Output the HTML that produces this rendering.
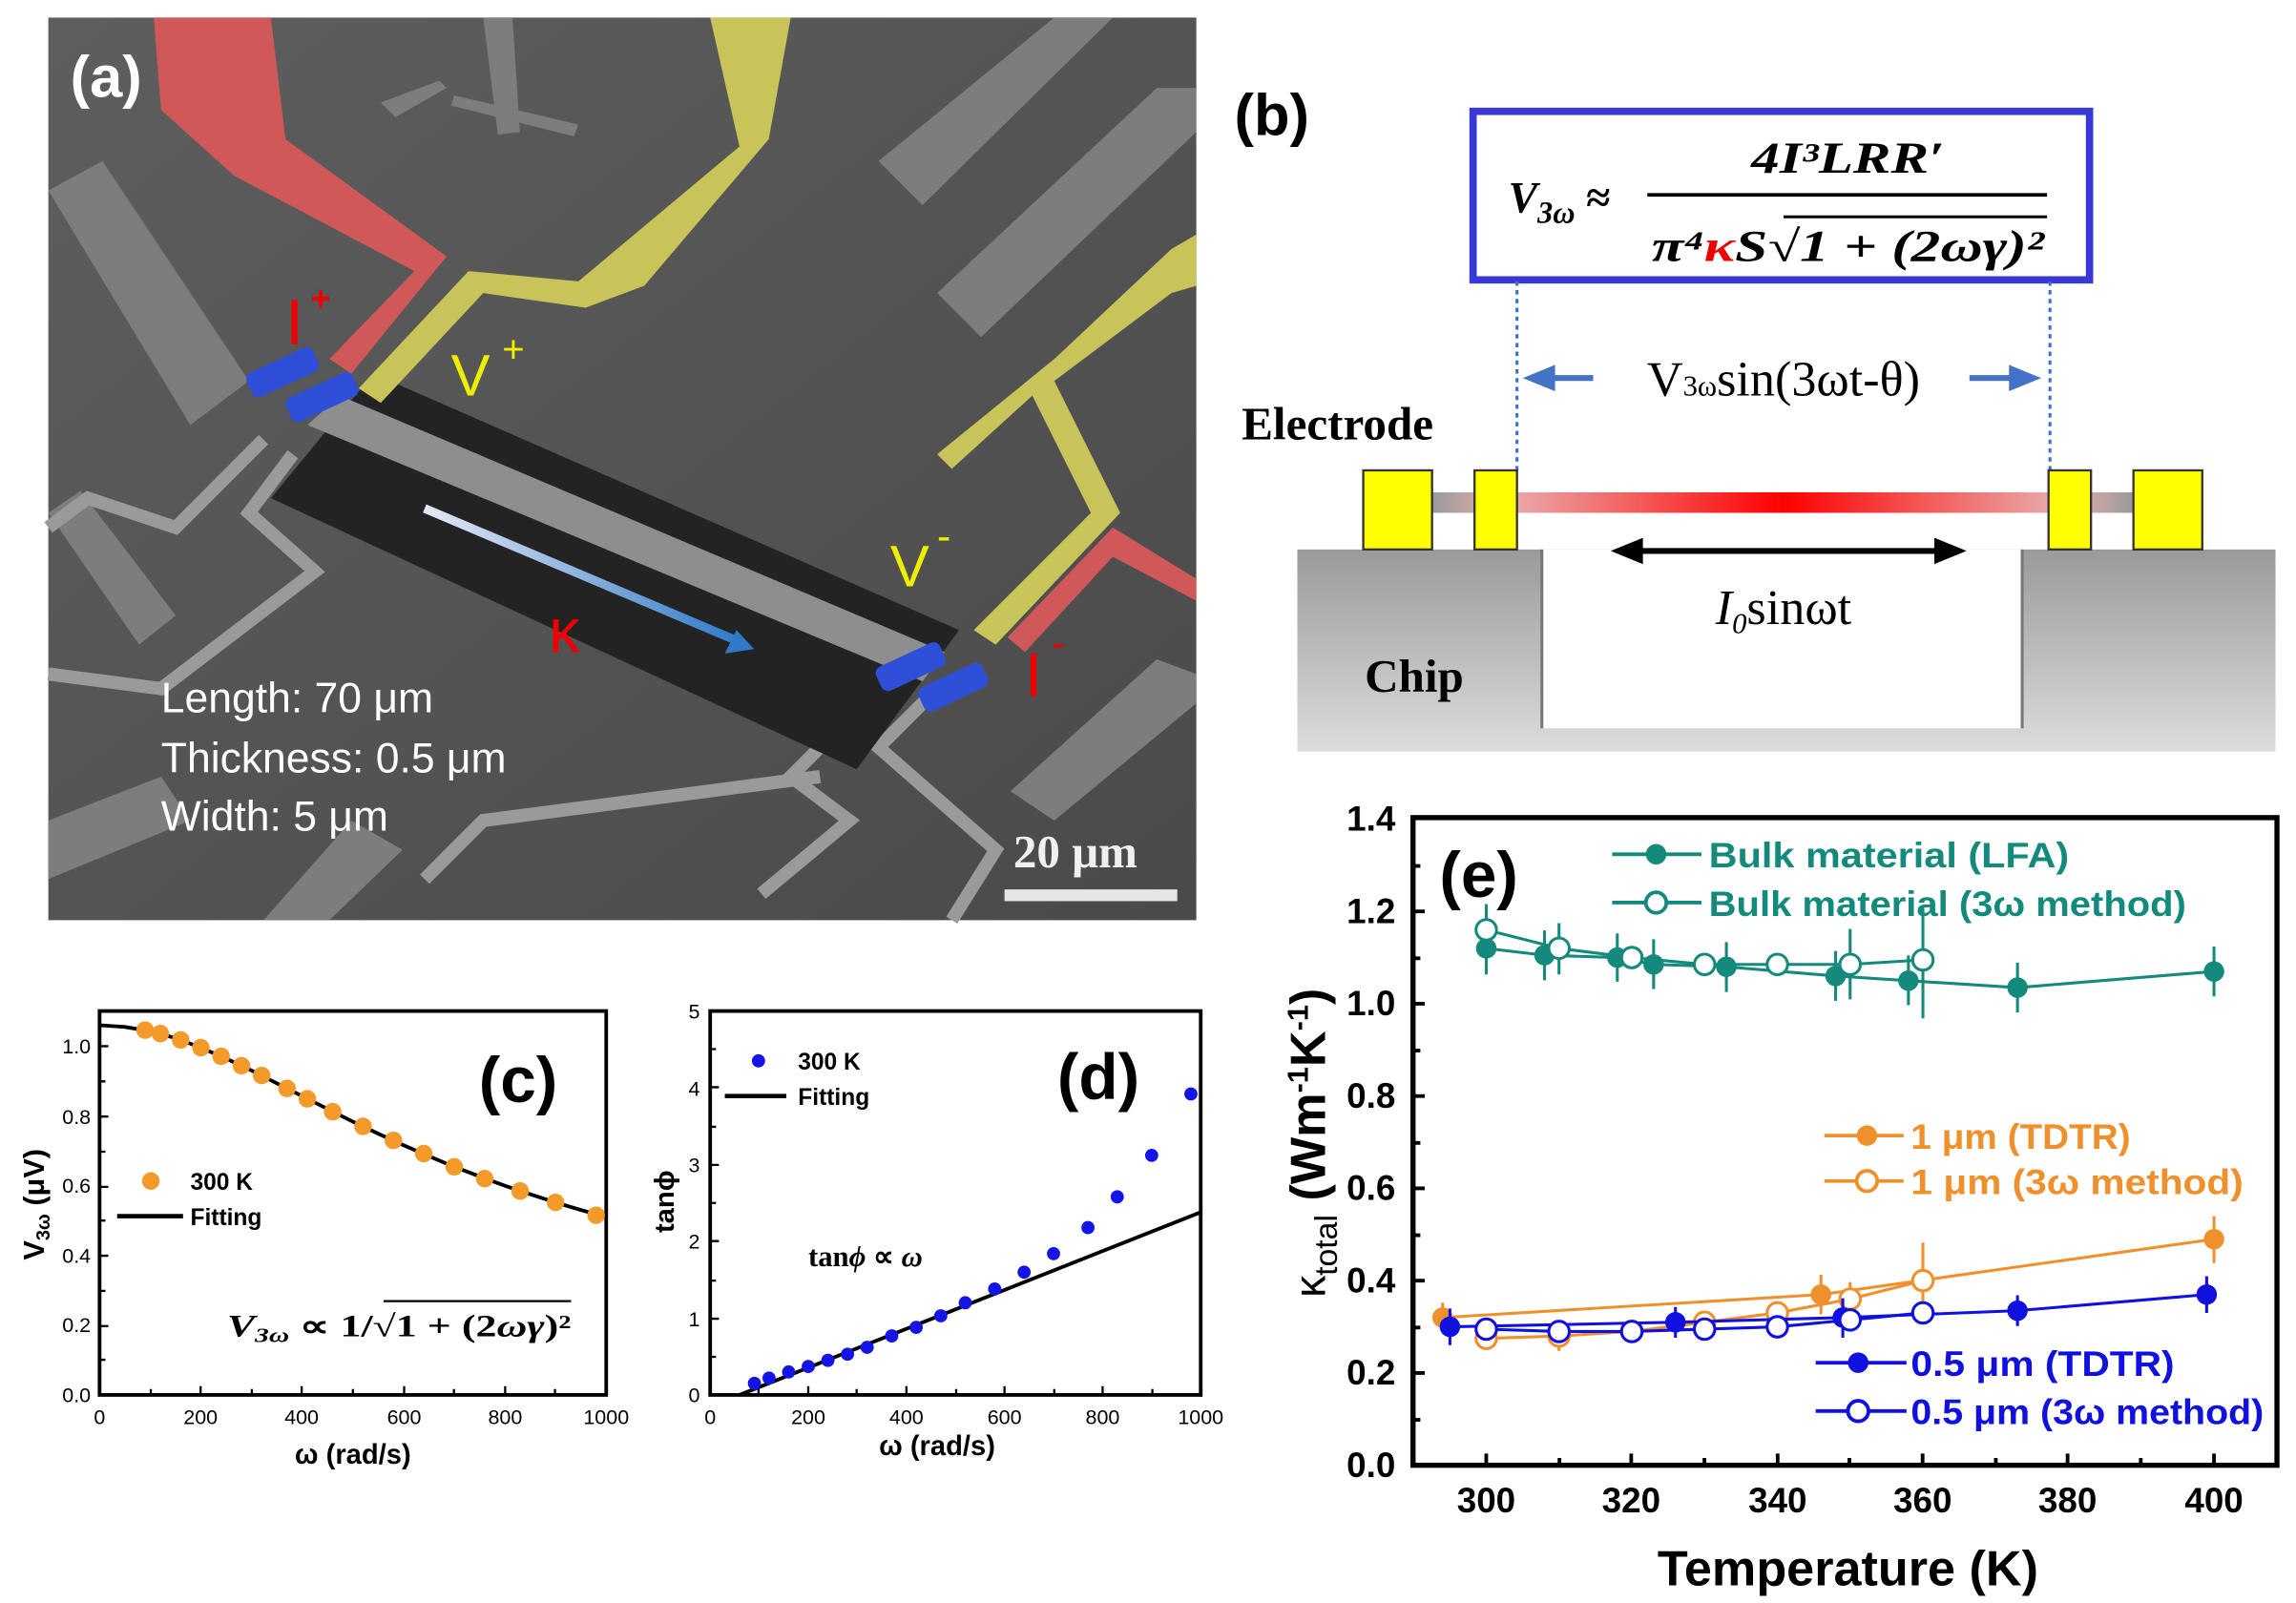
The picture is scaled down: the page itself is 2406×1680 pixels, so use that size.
<!DOCTYPE html>
<html><head><meta charset="utf-8"><style>
html,body{margin:0;padding:0;background:#fff;}
svg{display:block;}
text{font-family:"Liberation Sans",sans-serif;}
.n{font-family:"Liberation Sans Narrow","Liberation Sans",sans-serif;}
.s{font-family:"Liberation Serif",serif;}
</style></head><body>
<svg width="2406" height="1680" viewBox="0 0 1568 1094" preserveAspectRatio="none" xmlns="http://www.w3.org/2000/svg">
<defs>
<linearGradient id="kap" x1="0" y1="0" x2="1" y2="0"><stop offset="0" stop-color="#e8e8f4"/><stop offset="1" stop-color="#2f7ac8"/></linearGradient>
<linearGradient id="bar" x1="0" y1="0" x2="1" y2="0"><stop offset="0" stop-color="#999"/><stop offset="0.1" stop-color="#e8b0b0"/><stop offset="0.5" stop-color="#f00"/><stop offset="0.9" stop-color="#e8b0b0"/><stop offset="1" stop-color="#999"/></linearGradient>
<linearGradient id="chip" x1="0" y1="0" x2="0" y2="1"><stop offset="0" stop-color="#9a9a9a"/><stop offset="1" stop-color="#dcdcdc"/></linearGradient>
<linearGradient id="bg" x1="0" y1="0" x2="1" y2="1"><stop offset="0" stop-color="#5e5e5e"/><stop offset="1" stop-color="#4a4a4a"/></linearGradient>
</defs>
<!-- Panel a -->
<rect x="33" y="12" width="784" height="616" fill="url(#bg)"/>
<g fill="#7d7d7d">
<polygon points="33,130 70,110 170,260 130,290"/>
<polygon points="33,350 55,335 120,420 95,440"/>
<polygon points="600,110 720,12 760,12 630,140"/>
<polygon points="640,200 790,60 817,60 817,90 670,230"/>
<polygon points="260,70 300,55 305,60 270,80"/>
<polygon points="330,12 350,12 355,90 340,92"/>
<polygon points="310,65 395,85 392,93 308,72"/>
<polygon points="690,540 790,450 817,460 817,480 720,560"/>
<polygon points="33,560 110,530 130,560 33,600"/>
<polygon points="180,628 240,560 275,580 225,628"/>
</g>
<g fill="none" stroke="#9a9a9a" stroke-width="9">
<polyline points="180,300 120,360 60,340 33,360"/>
<polyline points="200,310 170,350 215,390 110,470 33,460"/>
<polyline points="590,480 540,530 580,560 520,610"/>
<polyline points="640,470 600,510 680,580 650,628"/>
<polyline points="560,530 330,560 290,600"/>
</g>
<polygon points="185,340 255,255 655,430 585,525" fill="#232323"/>
<polygon points="210,290 232,270 645,445 630,465" fill="#8e8e8e"/>
<polygon points="105,12 185,12 195,95 305,175 240,255 225,245 283,185 160,120 110,75" fill="#d05858"/>
<polygon points="485,12 540,12 525,95 440,195 400,210 330,200 260,275 245,265 320,185 395,192 505,100" fill="#c8c45a"/>
<polygon points="800,170 817,160 817,195 800,200 720,260 765,350 680,440 665,430 745,350 705,270 650,320 640,310 720,245" fill="#c8c45a"/>
<polygon points="760,360 817,395 817,410 760,380 700,445 688,435" fill="#d05858"/>
<g fill="#2f4fd8">
<rect x="168" y="245" width="50" height="18" rx="5" transform="rotate(-25 193 254)"/>
<rect x="195" y="262" width="50" height="18" rx="5" transform="rotate(-25 220 271)"/>
<rect x="598" y="446" width="48" height="18" rx="5" transform="rotate(-25 622 455)"/>
<rect x="627" y="460" width="48" height="18" rx="5" transform="rotate(-25 651 469)"/>
</g>
<line x1="290" y1="347" x2="505" y2="438" stroke="url(#kap)" stroke-width="6"/>
<polygon points="515,443 495,446 503,430" fill="#2f7ac8"/>
<text x="48" y="66" font-size="40" font-weight="bold" fill="#fff">(a)</text>
<text x="195" y="235" font-size="44" fill="#e00">I</text><text x="212" y="212" font-size="24" font-weight="bold" fill="#e00">+</text>
<text x="308" y="270" font-size="40" fill="#ee0">V</text><text x="343" y="247" font-size="26" fill="#ee0">+</text>
<text x="608" y="400" font-size="40" fill="#ee0">V</text><text x="640" y="375" font-size="28" fill="#ee0">-</text>
<text x="700" y="475" font-size="42" fill="#e00">I</text><text x="718" y="448" font-size="28" fill="#e00">-</text>
<text x="375" y="445" font-size="42" fill="#e00">κ</text>
<text x="110" y="486" font-size="29" fill="#fff">Length: 70 μm</text>
<text x="110" y="527" font-size="29" fill="#fff">Thickness: 0.5 μm</text>
<text x="110" y="567" font-size="29" fill="#fff">Width: 5 μm</text>
<text x="692" y="592" font-size="32" font-weight="bold" class="s" fill="#f0f0f0">20 μm</text>
<rect x="686" y="607" width="118" height="8" fill="#e6e6e6"/>
<!-- Panel b -->
<text x="843" y="92" font-size="40" font-weight="bold">(b)</text>
<rect x="1006" y="76" width="421" height="115" fill="#fff" stroke="#3838d8" stroke-width="5"/>
<text x="1030" y="145" font-size="30" font-weight="bold" font-style="italic" class="s">V<tspan font-size="21" dy="7">3ω</tspan><tspan dy="-7" font-style="normal"> ≈</tspan></text>
<text x="1196" y="118" font-size="30" font-weight="bold" font-style="italic" class="s" textLength="132" lengthAdjust="spacingAndGlyphs">4I³LRR′</text>
<line x1="1125" y1="133" x2="1398" y2="133" stroke="#000" stroke-width="2.5"/>
<text x="1128" y="178" font-size="30" font-weight="bold" font-style="italic" class="s" textLength="268" lengthAdjust="spacingAndGlyphs">π⁴<tspan fill="#e00">κ</tspan>S√1 + (2ωγ)²</text>
<line x1="1218" y1="148" x2="1398" y2="148" stroke="#000" stroke-width="2"/>
<g stroke="#3a6fd0" stroke-width="2" stroke-dasharray="3,3"><line x1="1036" y1="192" x2="1036" y2="322"/><line x1="1400" y1="192" x2="1400" y2="322"/></g>
<g stroke="#4472c4" stroke-width="4"><line x1="1055" y1="258" x2="1088" y2="258"/><line x1="1345" y1="258" x2="1378" y2="258"/></g>
<polygon points="1040,258 1062,249 1062,267" fill="#4472c4"/><polygon points="1394,258 1372,249 1372,267" fill="#4472c4"/>
<text x="1218" y="270" font-size="34" class="s" text-anchor="middle">V<tspan font-size="20">3ω</tspan>sin(3ωt-θ)</text>
<text x="848" y="300" font-size="32" font-weight="bold" class="s">Electrode</text>
<rect x="886" y="375" width="668" height="138" fill="url(#chip)"/>
<rect x="1053" y="375" width="328" height="122" fill="#fff"/>
<line x1="1053" y1="375" x2="1053" y2="497" stroke="#777" stroke-width="2"/><line x1="1381" y1="375" x2="1381" y2="497" stroke="#777" stroke-width="2"/>
<rect x="978" y="336" width="480" height="14" fill="url(#bar)"/>
<g fill="#ffff00" stroke="#333" stroke-width="1.5">
<rect x="931" y="321" width="47" height="54"/><rect x="1007" y="321" width="29" height="54"/>
<rect x="1399" y="321" width="29" height="54"/><rect x="1457" y="321" width="47" height="54"/></g>
<line x1="1115" y1="376" x2="1328" y2="376" stroke="#000" stroke-width="4"/>
<polygon points="1100,376 1122,367 1122,385"/><polygon points="1343,376 1321,367 1321,385"/>
<text x="1218" y="426" font-size="34" class="s" text-anchor="middle"><tspan font-style="italic">I<tspan font-size="20" dy="6">0</tspan></tspan><tspan dy="-6">sinωt</tspan></text>
<text x="932" y="472" font-size="32" font-weight="bold" class="s">Chip</text>
<!-- Panel c -->
<rect x="68" y="690" width="346" height="262" fill="none" stroke="#000" stroke-width="2.5"/>
<g font-size="14" class="n" text-anchor="end">
<text x="62" y="957">0.0</text><text x="62" y="909">0.2</text><text x="62" y="862">0.4</text><text x="62" y="814">0.6</text><text x="62" y="767">0.8</text><text x="62" y="719">1.0</text></g>
<g font-size="14" class="n" text-anchor="middle"><text x="68" y="972">0</text><text x="137" y="972">200</text><text x="206" y="972">400</text><text x="276" y="972">600</text><text x="345" y="972">800</text><text x="414" y="972">1000</text></g>
<g stroke="#000" stroke-width="1.5"><path d="M68,928h4M68,905h6M68,881h4M68,857h6M68,833h4M68,810h6M68,786h4M68,762h6M68,738h4M68,714h6M68,690h4M103,952v-4M137,952v-6M172,952v-4M206,952v-6M241,952v-4M276,952v-6M310,952v-4M345,952v-6M379,952v-4"/></g>
<polyline fill="none" stroke="#000" stroke-width="2.5" points="68,699.7 85,700.8 102.6,703.8 120,708.5 137.2,715 154.5,722.5 171.8,730.6 189,739.3 206.4,748.1 223.7,756.8 241,765.5 258.3,773.7 275.6,781.6 293,789.1 310.2,796.3 327.5,802.9 344.8,809.2 362,815 379.4,820.6 396.7,825.8 414,830.6"/>
<g fill="#f39a2b">
<circle cx="99.1" cy="703" r="6"/><circle cx="109.5" cy="705.4" r="6"/><circle cx="123.4" cy="709.7" r="6"/><circle cx="137.2" cy="715" r="6"/><circle cx="151" cy="720.9" r="6"/><circle cx="164.9" cy="727.3" r="6"/><circle cx="178.7" cy="734" r="6"/><circle cx="196" cy="742.8" r="6"/><circle cx="209.9" cy="749.9" r="6"/><circle cx="227.2" cy="758.7" r="6"/><circle cx="247.9" cy="768.7" r="6"/><circle cx="268.7" cy="778.3" r="6"/><circle cx="289.4" cy="787.3" r="6"/><circle cx="310.2" cy="796.3" r="6"/><circle cx="331" cy="804.4" r="6"/><circle cx="355.2" cy="812.8" r="6"/><circle cx="379.4" cy="820.6" r="6"/><circle cx="407.1" cy="829.4" r="6"/>
<circle cx="103" cy="806" r="6"/></g>
<text x="130" y="812" font-size="16" font-weight="bold" class="n">300 K</text>
<line x1="80" y1="830" x2="125" y2="830" stroke="#000" stroke-width="3"/>
<text x="130" y="836" font-size="16" font-weight="bold" class="n">Fitting</text>
<text x="327" y="752" font-size="44" font-weight="bold">(c)</text>
<text x="155" y="912" font-size="21" font-weight="bold" font-style="italic" class="s" textLength="235" lengthAdjust="spacingAndGlyphs">V<tspan font-size="14" dy="4">3ω</tspan><tspan dy="-4" font-style="normal"> ∝ 1/√1 + (2</tspan>ωγ<tspan font-style="normal">)²</tspan></text>
<line x1="262" y1="888" x2="390" y2="888" stroke="#000" stroke-width="1.5"/>
<text transform="translate(30,822) rotate(-90)" font-size="20" font-weight="bold" text-anchor="middle">V<tspan font-size="13" dy="4">3ω</tspan><tspan dy="-4"> (μV)</tspan></text>
<text x="241" y="999" font-size="19" font-weight="bold" text-anchor="middle" class="n">ω (rad/s)</text>
<!-- Panel d -->
<rect x="485" y="690" width="335" height="262" fill="none" stroke="#000" stroke-width="2.5"/>
<g font-size="14" class="n" text-anchor="end">
<text x="478" y="957">0</text><text x="478" y="905">1</text><text x="478" y="852">2</text><text x="478" y="800">3</text><text x="478" y="748">4</text><text x="478" y="695">5</text></g>
<g font-size="14" class="n" text-anchor="middle"><text x="485" y="972">0</text><text x="552" y="972">200</text><text x="619" y="972">400</text><text x="686" y="972">600</text><text x="753" y="972">800</text><text x="820" y="972">1000</text></g>
<g stroke="#000" stroke-width="1.5"><path d="M485,926h4M485,900h6M485,874h4M485,847h6M485,821h4M485,795h6M485,769h4M485,742h6M485,716h4M518,952v-4M552,952v-6M585,952v-4M619,952v-6M653,952v-4M686,952v-6M720,952v-4M753,952v-6M787,952v-4"/></g>
<line x1="505" y1="952" x2="820" y2="827.3" stroke="#000" stroke-width="2.5"/>
<g fill="#1414e6">
<circle cx="515.2" cy="944.1" r="4.5"/><circle cx="525.2" cy="940.5" r="4.5"/><circle cx="538.6" cy="936.3" r="4.5"/><circle cx="552" cy="932.6" r="4.5"/><circle cx="565.4" cy="928.4" r="4.5"/><circle cx="578.8" cy="924.2" r="4.5"/><circle cx="592.2" cy="919.5" r="4.5"/><circle cx="609" cy="911.7" r="4.5"/><circle cx="625.7" cy="905.9" r="4.5"/><circle cx="642.5" cy="898" r="4.5"/><circle cx="659.2" cy="889.1" r="4.5"/><circle cx="679.3" cy="879.7" r="4.5"/><circle cx="699.4" cy="868.2" r="4.5"/><circle cx="719.5" cy="855.6" r="4.5"/><circle cx="743" cy="837.8" r="4.5"/><circle cx="763" cy="816.8" r="4.5"/><circle cx="786.5" cy="788.5" r="4.5"/><circle cx="813.3" cy="746.6" r="4.5"/>
<circle cx="518" cy="724" r="4.5"/></g>
<text x="545" y="730" font-size="16" font-weight="bold" class="n">300 K</text>
<line x1="495" y1="748" x2="537" y2="748" stroke="#000" stroke-width="3"/>
<text x="545" y="754" font-size="16" font-weight="bold" class="n">Fitting</text>
<text x="722" y="750" font-size="44" font-weight="bold">(d)</text>
<text x="552" y="864" font-size="20" font-weight="bold" class="s">tan<tspan font-style="italic">ϕ</tspan> ∝ <tspan font-style="italic">ω</tspan></text>
<text transform="translate(460,820) rotate(-90)" font-size="19" font-weight="bold" text-anchor="middle">tanϕ</text>
<text x="640" y="993" font-size="19" font-weight="bold" text-anchor="middle" class="n">ω (rad/s)</text>
<!-- Panel e -->
<rect x="965" y="558" width="590" height="442" fill="none" stroke="#000" stroke-width="3.5"/>
<g font-size="24" font-weight="bold" class="n" text-anchor="end">
<text x="953" y="1008">0.0</text><text x="953" y="945">0.2</text><text x="953" y="882">0.4</text><text x="953" y="819">0.6</text><text x="953" y="756">0.8</text><text x="953" y="693">1.0</text><text x="953" y="630">1.2</text><text x="953" y="567">1.4</text></g>
<g font-size="24" font-weight="bold" class="n" text-anchor="middle"><text x="1015" y="1032">300</text><text x="1114" y="1032">320</text><text x="1214" y="1032">340</text><text x="1313" y="1032">360</text><text x="1412" y="1032">380</text><text x="1512" y="1032">400</text></g>
<g stroke="#000" stroke-width="2.5"><path d="M965,969h5M965,937h8M965,906h5M965,874h8M965,843h5M965,811h8M965,780h5M965,748h8M965,717h5M965,685h8M965,654h5M965,622h8M965,591h5M1015,1000v-8M1065,1000v-5M1114,1000v-8M1164,1000v-5M1214,1000v-8M1263,1000v-5M1313,1000v-8M1363,1000v-5M1412,1000v-8M1462,1000v-5M1512,1000v-8"/></g>
<text x="983" y="612" font-size="44" font-weight="bold">(e)</text>
<g stroke="#148a7c" stroke-width="2" fill="none">
<polyline points="1015,647.2 1054.8,651.9 1104.5,653.5 1129.3,658.2 1179,659.8 1253.6,666.1 1303.3,669.3 1377.8,674 1512,663"/>
<polyline points="1015,634.6 1064.7,647.2 1114.4,653.5 1164.1,658.2 1213.8,658.2 1263.5,658.2 1313.2,655.1"/>
<path d="M1015,630v35M1054.8,635v34M1104.5,637v33M1129.3,641v34M1179,643v34M1253.6,649v34M1303.3,652v34M1377.8,657v34M1512,646v34M1015,617v35M1064.7,630v35M1263.5,634v48M1313.2,620v75"/>
</g>
<g fill="#148a7c"><circle cx="1015" cy="647.2" r="7"/><circle cx="1054.8" cy="651.9" r="7"/><circle cx="1104.5" cy="653.5" r="7"/><circle cx="1129.3" cy="658.2" r="7"/><circle cx="1179" cy="659.8" r="7"/><circle cx="1253.6" cy="666.1" r="7"/><circle cx="1303.3" cy="669.3" r="7"/><circle cx="1377.8" cy="674" r="7"/><circle cx="1512" cy="663" r="7"/></g>
<g fill="#fff" stroke="#148a7c" stroke-width="2"><circle cx="1015" cy="634.6" r="7"/><circle cx="1064.7" cy="647.2" r="7"/><circle cx="1114.4" cy="653.5" r="7"/><circle cx="1164.1" cy="658.2" r="7"/><circle cx="1213.8" cy="658.2" r="7"/><circle cx="1263.5" cy="658.2" r="7"/><circle cx="1313.2" cy="655.1" r="7"/></g>
<g stroke="#f0902c" stroke-width="2" fill="none">
<polyline points="985.2,899.2 1243.6,883.5 1512,845.7"/>
<polyline points="1015,913.4 1064.7,911.8 1114.4,908.7 1164.1,902.4 1213.8,896 1263.5,886.6 1313.2,874"/>
<path d="M985.2,889v20M1243.6,870v27M1512,830v32M1064.7,902v20M1263.5,875v22M1313.2,848v40"/>
</g>
<g fill="#f0902c"><circle cx="985.2" cy="899.2" r="7"/><circle cx="1243.6" cy="883.5" r="7"/><circle cx="1512" cy="845.7" r="7"/></g>
<g fill="#fff" stroke="#f0902c" stroke-width="2"><circle cx="1015" cy="913.4" r="7"/><circle cx="1064.7" cy="911.8" r="7"/><circle cx="1114.4" cy="908.7" r="7"/><circle cx="1164.1" cy="902.4" r="7"/><circle cx="1213.8" cy="896" r="7"/><circle cx="1263.5" cy="886.6" r="7"/><circle cx="1313.2" cy="874" r="7"/></g>
<g stroke="#1010e0" stroke-width="2" fill="none">
<polyline points="990.2,905.5 1144.2,902.4 1258.5,899.2 1377.8,894.5 1507,883.5"/>
<polyline points="1015,907.1 1064.7,908.7 1114.4,908.7 1164.1,907.1 1213.8,905.5 1263.5,900.8 1313.2,896"/>
<path d="M990.2,893v25M1144.2,892v21M1258.5,886v27M1377.8,884v21M1507,871v25"/>
</g>
<g fill="#1010e0"><circle cx="990.2" cy="905.5" r="7"/><circle cx="1144.2" cy="902.4" r="7"/><circle cx="1258.5" cy="899.2" r="7"/><circle cx="1377.8" cy="894.5" r="7"/><circle cx="1507" cy="883.5" r="7"/></g>
<g fill="#fff" stroke="#1010e0" stroke-width="2"><circle cx="1015" cy="907.1" r="7"/><circle cx="1064.7" cy="908.7" r="7"/><circle cx="1114.4" cy="908.7" r="7"/><circle cx="1164.1" cy="907.1" r="7"/><circle cx="1213.8" cy="905.5" r="7"/><circle cx="1263.5" cy="900.8" r="7"/><circle cx="1313.2" cy="896" r="7"/></g>
<g stroke-width="2.5">
<line x1="1101" y1="583" x2="1162" y2="583" stroke="#148a7c"/><circle cx="1131" cy="583" r="7" fill="#148a7c"/>
<line x1="1101" y1="616" x2="1162" y2="616" stroke="#148a7c"/><circle cx="1131" cy="616" r="7" fill="#fff" stroke="#148a7c"/>
<line x1="1246" y1="775" x2="1300" y2="775" stroke="#f0902c"/><circle cx="1275" cy="775" r="7" fill="#f0902c"/>
<line x1="1246" y1="806" x2="1300" y2="806" stroke="#f0902c"/><circle cx="1275" cy="806" r="7" fill="#fff" stroke="#f0902c"/>
<line x1="1240" y1="930" x2="1302" y2="930" stroke="#1010e0"/><circle cx="1269" cy="930" r="7" fill="#1010e0"/>
<line x1="1240" y1="963" x2="1302" y2="963" stroke="#1010e0"/><circle cx="1269" cy="963" r="7" fill="#fff" stroke="#1010e0"/>
</g>
<g font-size="24" font-weight="bold" class="n">
<text x="1167" y="592" fill="#148a7c" textLength="246" lengthAdjust="spacingAndGlyphs">Bulk material (LFA)</text>
<text x="1167" y="625" fill="#148a7c" textLength="326" lengthAdjust="spacingAndGlyphs">Bulk material (3ω method)</text>
<text x="1305" y="784" fill="#f0902c" textLength="150" lengthAdjust="spacingAndGlyphs">1 μm (TDTR)</text>
<text x="1305" y="815" fill="#f0902c" textLength="227" lengthAdjust="spacingAndGlyphs">1 μm (3ω method)</text>
<text x="1305" y="939" fill="#1010e0" textLength="180" lengthAdjust="spacingAndGlyphs">0.5 μm (TDTR)</text>
<text x="1305" y="972" fill="#1010e0" textLength="241" lengthAdjust="spacingAndGlyphs">0.5 μm (3ω method)</text>
</g>
<text transform="translate(905,780) rotate(-90)" font-size="34" font-weight="bold" text-anchor="middle"><tspan font-weight="normal" font-size="30">κ</tspan><tspan font-size="22" dy="8" font-weight="normal">total</tspan><tspan dy="-8"> (Wm</tspan><tspan font-size="20" dy="-12">-1</tspan><tspan dy="12">K</tspan><tspan font-size="20" dy="-12">-1</tspan><tspan dy="12">)</tspan></text>
<text x="1262" y="1082" font-size="34" font-weight="bold" text-anchor="middle">Temperature (K)</text>
</svg>
</body></html>
